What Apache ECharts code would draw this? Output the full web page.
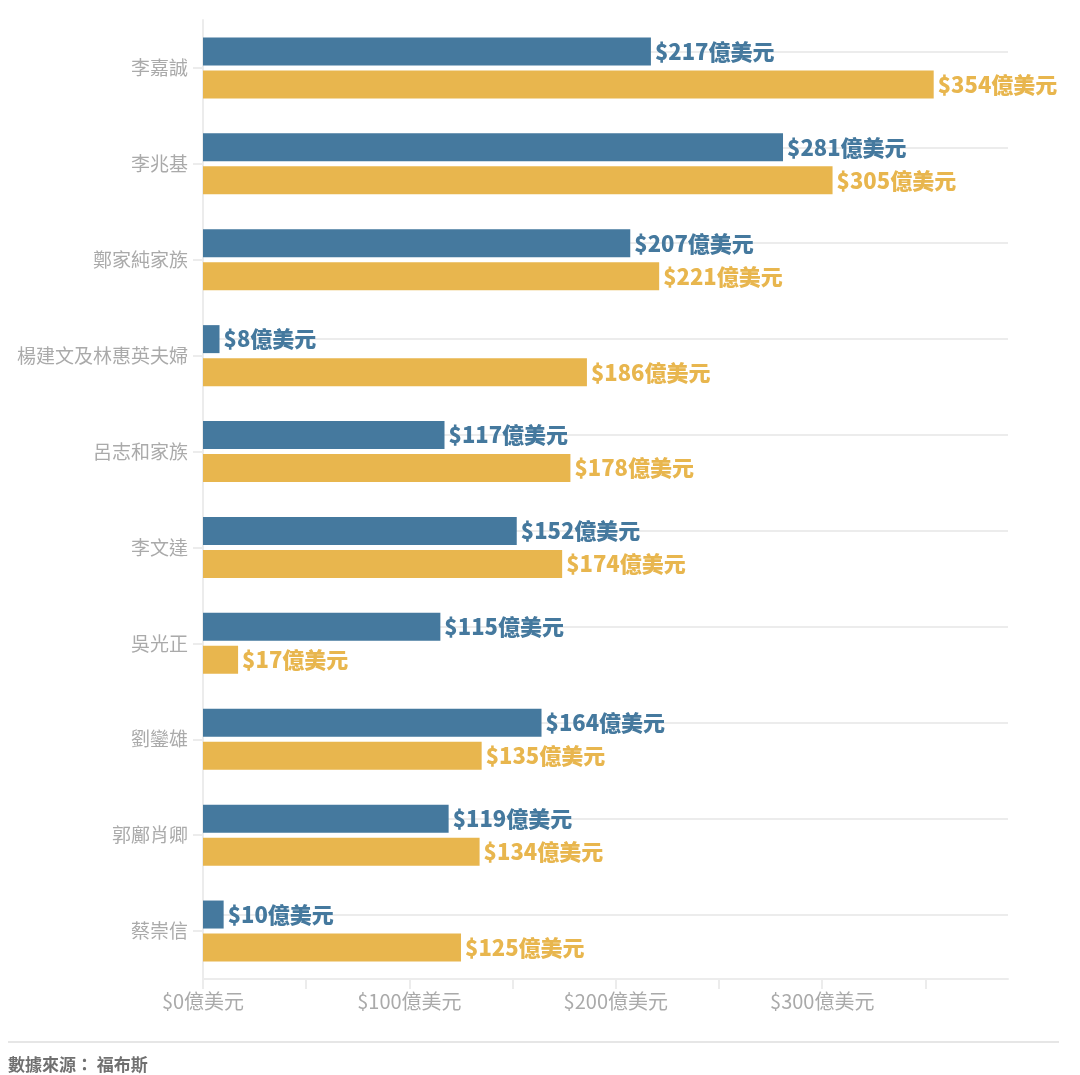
<!DOCTYPE html>
<html>
<head>
<meta charset="utf-8">
<script src="https://cdn.jsdelivr.net/npm/echarts@6/dist/echarts.min.js"></script>
<style>
html,body{margin:0;padding:0;background:#fff;}
#chart{width:1080px;height:1075px;}
</style>
</head>
<body>
<div id="chart"></div>
<script>
const categories = ['李嘉誠','李兆基','鄭家純家族','楊建文及林惠英夫婦','呂志和家族','李文達','吳光正','劉鑾雄','郭鄺肖卿','蔡崇信'];
const seriesBlue = [217, 281, 207, 8, 117, 152, 115, 164, 119, 10];
const seriesYellow = [354, 305, 221, 186, 178, 174, 17, 135, 134, 125];
const xLabelValues = [0, 100, 200, 300];
const xTickValues = [0, 50, 100, 150, 200, 250, 300, 350];
const sourceText = '數據來源： 福布斯';

const FONT = '"Noto Sans CJK TC", "Noto Sans", sans-serif';
const BLUE = '#45799e';
const YELLOW = '#e8b64e';
const GRID = '#ececec';

const chart = echarts.init(document.getElementById('chart'));
const fmt = v => '$' + v + '億美元';

chart.setOption({
  animation: false,
  textStyle: { fontFamily: FONT },
  grid: { left: 203, right: 72, top: 20, bottom: 96, containLabel: false },
  xAxis: {
    type: 'value',
    min: 0,
    max: 390,
    interval: 50,
    axisLine: { show: true, lineStyle: { color: GRID, width: 2 } },
    axisTick: { show: true, length: 10, customValues: xTickValues, lineStyle: { color: GRID, width: 2 } },
    axisLabel: { customValues: xLabelValues, formatter: fmt, color: '#aaaaaa', fontSize: 20, margin: 12, fontFamily: FONT },
    splitLine: { show: false }
  },
  yAxis: {
    type: 'category',
    inverse: true,
    data: categories,
    axisLine: { show: true, lineStyle: { color: GRID, width: 2 } },
    axisTick: { show: true, alignWithLabel: true, length: 10, lineStyle: { color: GRID, width: 2 } },
    axisLabel: { color: '#aaaaaa', fontSize: 19, margin: 15, fontFamily: FONT },
    splitLine: { show: false }
  },
  series: [
    {
      name: 'A',
      type: 'bar',
      data: seriesBlue,
      barWidth: 28,
      barGap: '18%',
      itemStyle: { color: BLUE },
      label: { show: true, position: 'right', distance: 4, formatter: p => fmt(p.value), color: BLUE, fontWeight: 900, fontSize: 22, fontFamily: FONT },
      markLine: {
        silent: true,
        symbol: ['none', 'none'],
        label: { show: false },
        lineStyle: { color: GRID, type: 'solid', width: 2 },
        z: 1,
        data: categories.map(c => ({ yAxis: c }))
      }
    },
    {
      name: 'B',
      type: 'bar',
      data: seriesYellow,
      barWidth: 28,
      barGap: '18%',
      itemStyle: { color: YELLOW },
      label: { show: true, position: 'right', distance: 4, formatter: p => fmt(p.value), color: YELLOW, fontWeight: 900, fontSize: 22, fontFamily: FONT }
    }
  ],
  graphic: [
    { type: 'line', shape: { x1: 8, y1: 1042, x2: 1059, y2: 1042 }, style: { stroke: '#e6e6e6', lineWidth: 2 } },
    { type: 'text', left: 8, top: 1056, style: { text: sourceText, fill: '#707070', fontSize: 17, fontWeight: 'bold', fontFamily: FONT } }
  ]
});
</script>
</body>
</html>
